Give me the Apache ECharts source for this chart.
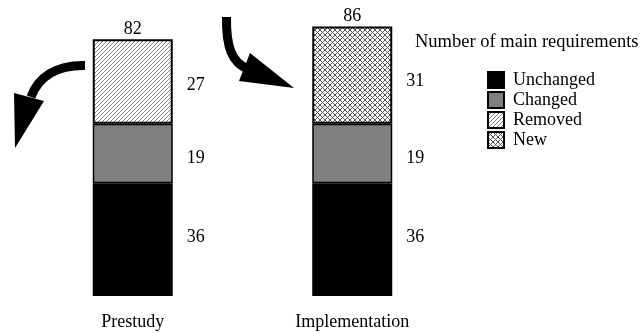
<!DOCTYPE html>
<html>
<head>
<meta charset="utf-8">
<script src="https://cdn.jsdelivr.net/npm/echarts@6/dist/echarts.min.js"></script>
<style>html,body{margin:0;padding:0;background:#fff}#c{width:640px;height:333px}</style>
</head>
<body>
<div id="c"></div>
<script>
var categories = ['Prestudy', 'Implementation'];
var unchanged = [36, 36];
var changed = [19, 19];
var removed = [27, '-'];
var added = ['-', 31];
var totals = [82, 86];
var seriesNames = ['Unchanged', 'Changed', 'Removed', 'New'];
var legendTitle = 'Number of main requirements';

function hatch() {
  var c = document.createElement('canvas');
  c.width = 4; c.height = 4;
  var g = c.getContext('2d');
  g.fillStyle = '#fff'; g.fillRect(0, 0, 4, 4);
  g.strokeStyle = '#858585'; g.lineWidth = 1;
  g.beginPath();
  g.moveTo(-1, 5); g.lineTo(5, -1);
  g.moveTo(-1, 1); g.lineTo(1, -1);
  g.moveTo(3, 5); g.lineTo(5, 3);
  g.stroke();
  return { image: c, repeat: 'repeat' };
}
function cross() {
  var c = document.createElement('canvas');
  c.width = 5; c.height = 5;
  var g = c.getContext('2d');
  g.fillStyle = '#fff'; g.fillRect(0, 0, 5, 5);
  g.fillStyle = '#555';
  var px = [[0,0],[1,1],[2,2],[3,3],[4,4],[4,0],[3,1],[1,3],[0,4]];
  px.forEach(function(p){ g.fillRect(p[0], p[1], 1, 1); });
  return { image: c, repeat: 'repeat' };
}
var hatchFill = hatch();
var crossFill = cross();
var font = 'Liberation Serif';

var chart = echarts.init(document.getElementById('c'));
var sideLabel = { show: true, position: 'right', distance: 14, color: '#000', fontFamily: font, fontSize: 18 };
chart.setOption({
  animation: false,
  grid: { left: 23, width: 439, top: 0, bottom: 37 },
  xAxis: {
    type: 'category', data: categories,
    axisLine: { show: false }, axisTick: { show: false },
    axisLabel: { color: '#000', fontFamily: font, fontSize: 18, margin: 17 }
  },
  yAxis: { type: 'value', min: 0, max: 94.5, show: false, splitLine: { show: false } },
  legend: {
    orient: 'vertical', left: 487, top: 71, padding: 0, itemWidth: 16, itemHeight: 16, itemGap: 2,
    icon: 'rect',
    textStyle: { color: '#000', fontFamily: font, fontSize: 18, lineHeight: 18, padding: [0, 0, 0, 4] },
    data: [
      { name: 'Unchanged', itemStyle: { color: '#000', borderColor: '#000', borderWidth: 2 } },
      { name: 'Changed', itemStyle: { color: '#808080', borderColor: '#000', borderWidth: 2 } },
      { name: 'Removed', itemStyle: { color: hatchFill, borderColor: '#000', borderWidth: 2 } },
      { name: 'New', itemStyle: { color: crossFill, borderColor: '#000', borderWidth: 2 } }
    ]
  },
  graphic: [
    { type: 'text', left: 415, top: 33, style: { text: legendTitle, fill: '#000', font: '18.5px "Liberation Serif"' } },
    { type: 'bezierCurve', shape: { x1: 85, y1: 65.5, cpx1: 55, cpy1: 65, cpx2: 38, cpy2: 78, x2: 31, y2: 97 },
      style: { stroke: '#000', lineWidth: 9, fill: null } },
    { type: 'polygon', shape: { points: [[14, 93], [44, 101], [15, 148]] }, style: { fill: '#000' } },
    { type: 'bezierCurve', shape: { x1: 226.5, y1: 17, cpx1: 226, cpy1: 47, cpx2: 232, cpy2: 63, x2: 248, y2: 69 },
      style: { stroke: '#000', lineWidth: 9, fill: null } },
    { type: 'polygon', shape: { points: [[250, 53], [239, 81], [294, 88]] }, style: { fill: '#000' } }
  ],
  series: [
    { name: seriesNames[0], type: 'bar', stack: 's', barWidth: 80, data: unchanged,
      itemStyle: { color: '#000' }, label: Object.assign({}, sideLabel, { offset: [0, -2] }) },
    { name: seriesNames[1], type: 'bar', stack: 's', data: changed,
      itemStyle: { color: '#808080', borderColor: '#000', borderWidth: 1.5 },
      label: Object.assign({}, sideLabel, { offset: [0, 5] }) },
    { name: seriesNames[2], type: 'bar', stack: 's', data: removed,
      itemStyle: { color: hatchFill, borderColor: '#000', borderWidth: 2 },
      label: Object.assign({}, sideLabel, { offset: [0, 4] }) },
    { name: seriesNames[3], type: 'bar', stack: 's', data: added,
      itemStyle: { color: crossFill, borderColor: '#000', borderWidth: 2 },
      label: Object.assign({}, sideLabel, { offset: [0, 6] }) },
    { type: 'scatter', data: totals, symbolSize: 0, itemStyle: { color: '#000', opacity: 1 }, silent: true,
      label: { show: true, position: 'top', distance: 1, color: '#000', opacity: 1, fontFamily: font, fontSize: 18,
        formatter: function (p) { return totals[p.dataIndex]; } } }
  ]
});
</script>
</body>
</html>
